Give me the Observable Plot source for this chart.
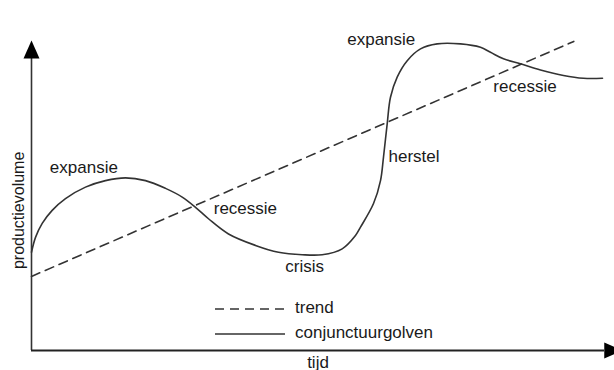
<!DOCTYPE html>
<html>
<head>
<meta charset="utf-8">
<script src="https://cdn.jsdelivr.net/npm/d3@7"></script>
<script src="https://cdn.jsdelivr.net/npm/@observablehq/plot@0.6"></script>
<style>
  html, body { margin: 0; padding: 0; background: #fff; }
  #wrap { position: relative; width: 614px; height: 370px; overflow: hidden; font-family: "Liberation Sans", Arial, sans-serif; color: #1a1a1a; }
  #legend { position: absolute; left: 215px; top: 296px; font-size: 17px; }
  .row { display: flex; align-items: center; height: 25px; }
  .row svg { display: block; }
  .row span { margin-left: 10px; position: relative; top: -1px; }
</style>
</head>
<body>
<div id="wrap"><div id="chart"></div>
  <div id="legend"></div>
</div>
<script>
// --- data (time t on 0..100, production volume v on 0..100) ---
const curveT = [0, 0.70, 1.87, 3.61, 5.93, 9.42, 12.91, 16.40, 19.90, 23.39, 26.30, 28.62, 30.89, 34.38, 39.09, 43.11, 47.24, 50.73, 54.22, 56.54, 57.42, 59.69, 60.91, 61.43, 62.08, 62.65, 63.82, 65.57, 67.89, 70.80, 74.87, 78.36, 80.10, 82.37, 85.34, 88.83, 92.84, 96.34, 99.65];
const curveV = [31.7, 36.5, 41.0, 45.2, 49.0, 52.7, 54.8, 55.7, 54.8, 52.3, 49.5, 46.2, 42.5, 37.6, 33.9, 31.7, 30.9, 30.9, 32.8, 37.1, 39.8, 47.4, 54.8, 62.4, 73.2, 81.7, 88.2, 93.5, 97.3, 98.9, 98.9, 97.8, 96.2, 94.1, 92.5, 90.5, 88.7, 87.8, 87.8];

const trendT = [0, 94.64];
const trendV = [23.9, 99.7];

const phaseLabels = ["expansie", "recessie", "crisis", "herstel", "expansie", "recessie"];
const phaseT = [3.2, 31.8, 44.3, 62.3, 55.1, 80.6];
const phaseV = [57.4, 43.9, 25.3, 60.7, 98.4, 83.3];

const xLabel = "tijd";
const yLabel = "productievolume";
const legendLabels = ["trend", "conjunctuurgolven"];

// --- build tables ---
const curve = curveT.map((t, i) => ({t, v: curveV[i]}));
const trend = trendT.map((t, i) => ({t, v: trendV[i]}));
const phases = phaseLabels.map((label, i) => ({label, t: phaseT[i], v: phaseV[i]}));

const arrowHead = {
  draw(context) {
    context.moveTo(0, 0);
    context.lineTo(-8, 18);
    context.lineTo(8, 18);
    context.closePath();
  }
};

const ink = "#333";
const chart = Plot.plot({
  width: 614,
  height: 370,
  marginLeft: 31,
  marginRight: 10,
  marginTop: 40,
  marginBottom: 20,
  x: {domain: [0, 100], axis: null},
  y: {domain: [0, 100], axis: null},
  style: {fontFamily: '"Liberation Sans", Arial, sans-serif', fontSize: "17px", background: "#fff", overflow: "visible"},
  marks: [
    // axes
    Plot.ruleX([0], {y1: 0, y2: 95, stroke: ink, strokeWidth: 1.6}),
    Plot.ruleY([0], {x1: 0, x2: 100, stroke: "#222", strokeWidth: 2}),
    Plot.dot([{t: 0, v: 100}], {x: "t", y: "v", symbol: arrowHead, fill: "#000", stroke: "none"}),
    Plot.dot([{t: 103.1, v: 0}], {x: "t", y: "v", symbol: arrowHead, fill: "#000", stroke: "none", rotate: 90}),
    // trend and cycle
    Plot.line(trend, {x: "t", y: "v", stroke: ink, strokeWidth: 1.6, strokeDasharray: "9,6"}),
    Plot.line(curve, {x: "t", y: "v", stroke: ink, strokeWidth: 1.6, curve: "catmull-rom"}),
    // phase labels
    Plot.text(phases, {x: "t", y: "v", text: "label", textAnchor: "start", lineAnchor: "bottom", fill: "#1a1a1a", fontSize: 17}),
    // axis labels
    Plot.text([xLabel], {x: 50, y: 0, text: d => d, textAnchor: "middle", lineAnchor: "bottom", dy: 17, fill: "#1a1a1a", fontSize: 17}),
    Plot.text([yLabel], {x: 0, y: 45.2, text: d => d, rotate: -90, textAnchor: "middle", lineAnchor: "middle", dx: -13, fill: "#1a1a1a", fontSize: 16})
  ]
});
document.getElementById("chart").appendChild(chart);

// legend
const legend = document.getElementById("legend");
legendLabels.forEach((label, i) => {
  const row = document.createElement("div");
  row.className = "row";
  const dash = i === 0 ? 'stroke-dasharray="9,6"' : "";
  row.innerHTML = `<svg width="70" height="12"><line x1="0" x2="70" y1="6" y2="6" stroke="${ink}" stroke-width="1.6" ${dash}/></svg><span>${label}</span>`;
  legend.appendChild(row);
});
</script>
</body>
</html>
